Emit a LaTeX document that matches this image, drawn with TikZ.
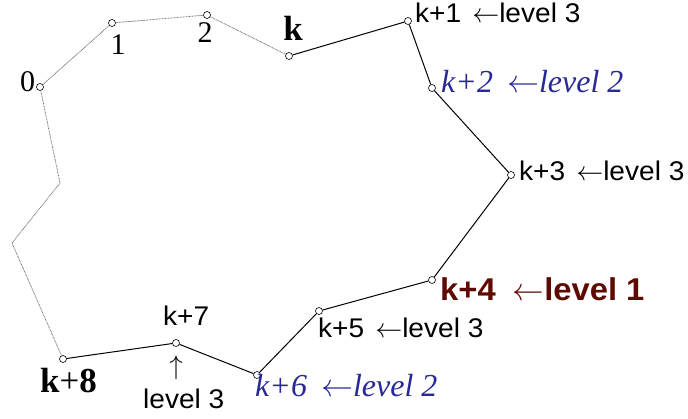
\documentclass[tikz,border=0pt]{standalone}
\usepackage{fix-cm}
\usepackage{fontspec}
\setmainfont{Liberation Serif}
\newfontfamily\lsans[FakeStretch=1.04]{Liberation Sans}
\definecolor{lvtwo}{RGB}{40,40,150}
\definecolor{lvone}{RGB}{95,10,0}
\begin{document}
\begin{tikzpicture}[x=1pt,y=-1pt,
  pt/.style={circle,draw,fill=white,inner sep=0pt,minimum size=7pt,line width=0.6pt},
  solidln/.style={line width=1pt},
  dotln/.style={black!55,line width=0.8pt,dash pattern=on 0.8pt off 0.7pt},
  lab/.style={inner sep=0pt},
  serifnum/.style={lab,font=\fontsize{30}{34}\selectfont},
  serifbold/.style={lab,font=\fontsize{35}{40}\selectfont},
  sanslab/.style={lab,font=\lsans\fontsize{27}{31}\selectfont,text height=19pt},
  lvtwolab/.style={lab,text=lvtwo,font=\itshape\fontsize{32}{36}\selectfont},
  lvonelab/.style={lab,text=lvone,font=\lsans\bfseries\fontsize{31.5}{36}\selectfont}]
\useasboundingbox (0,0) rectangle (688,419);
% points
\node[pt] (p0) at (40,87) {};
\node[pt] (p1) at (112,23) {};
\node[pt] (p2) at (207,15) {};
\node[pt] (pk) at (289,56) {};
\node[pt] (pk1) at (408,21) {};
\node[pt] (pk2) at (432,88) {};
\node[pt] (pk3) at (511,175) {};
\node[pt] (pk4) at (432,280) {};
\node[pt] (pk5) at (319,311) {};
\node[pt] (pk6) at (257,375) {};
\node[pt] (pk7) at (176,343) {};
\node[pt] (pk8) at (63,359) {};
\coordinate (b1) at (12,243);
\coordinate (b2) at (60,183);
% polygon
\draw[dotln] (pk8) -- (b1) -- (b2) -- (p0) -- (p1) -- (p2) -- (pk);
\draw[solidln] (pk) -- (pk1) -- (pk2) -- (pk3) -- (pk4) -- (pk5) -- (pk6) -- (pk7) -- (pk8);
% labels
\node[serifnum,anchor=base west] (l0) at (20,92) {0};
\node[serifnum,anchor=base] (l1) at (118,55) {1};
\node[serifnum,anchor=base] (l2) at (205,43) {2};
\node[serifbold,anchor=base] (lk) at (293,41) {\textbf{k}};
\node[sanslab,anchor=base west] (lk1) at (415,23) {k+1\hspace{11pt}$\leftarrow$level 3};
\node[lvtwolab,anchor=base west] (lk2) at (441,93) {k+2\hspace{14pt}$\leftarrow$level 2};
\node[sanslab,anchor=base west] (lk3) at (519,181) {k+3\hspace{11pt}$\leftarrow$level 3};
\node[lvonelab,anchor=base west] (lk4) at (440,301) {k+4\hspace{17pt}$\leftarrow$level 1};
\node[sanslab,anchor=base west] (lk5) at (318,338) {k+5\hspace{11pt}$\leftarrow$level 3};
\node[lvtwolab,anchor=base west] (lk6) at (255,397) {k+6\hspace{14pt}$\leftarrow$level 2};
\node[sanslab,anchor=base west] (lk7) at (163,326) {k+7};
\node[sanslab,anchor=base] (up7) at (176,375) {$\uparrow$};
\node[sanslab,anchor=base west] (lv7) at (143,408) {level 3};
\node[serifbold,anchor=base west] (lk8) at (40,392) {\textbf{k}+\textbf{8}};
\end{tikzpicture}
\end{document}
